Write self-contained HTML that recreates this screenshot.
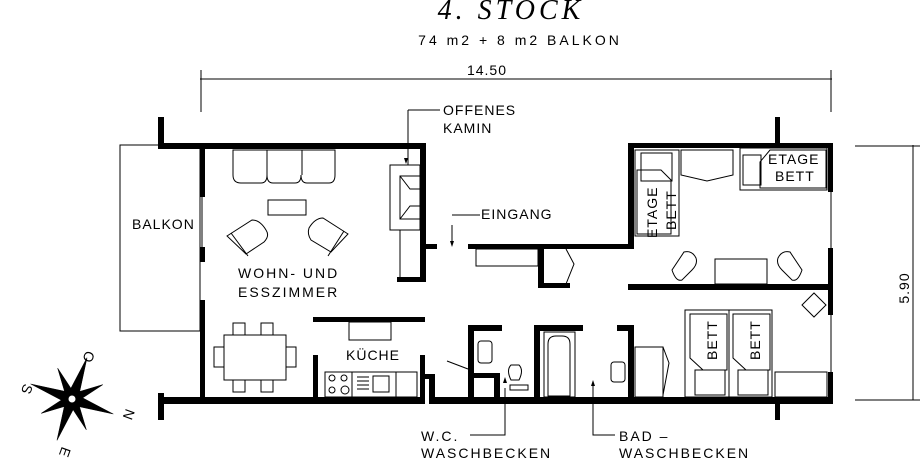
<!DOCTYPE html>
<html><head><meta charset="utf-8"><style>
html,body{margin:0;padding:0;background:#fff;}
svg{display:block;}
text{font-family:"Liberation Sans",sans-serif;font-size:14px;fill:#000;letter-spacing:1px;}
</style></head><body>
<svg width="924" height="465" viewBox="0 0 924 465" xmlns="http://www.w3.org/2000/svg">
<text x="511" y="19" text-anchor="middle" style="font-family:'Liberation Serif',serif;font-style:italic;font-size:28px;letter-spacing:4px">4.  STOCK</text>
<text x="520" y="45" text-anchor="middle" style="font-size:14px;letter-spacing:3px">74 m2 + 8 m2 BALKON</text>
<text x="487" y="75" text-anchor="middle">14.50</text>
<g stroke="#000" stroke-width="1" fill="none">
<line x1="200" y1="79" x2="832" y2="79"/>
<line x1="201" y1="70" x2="201" y2="112"/>
<line x1="831" y1="70" x2="831" y2="112"/>
<line x1="913" y1="145" x2="913" y2="400"/>
<line x1="855" y1="146" x2="920" y2="146"/>
<line x1="855" y1="400" x2="920" y2="400"/>
<rect x="120" y="145" width="80" height="186"/>
<line x1="202" y1="196" x2="202" y2="247"/>
<line x1="831" y1="192" x2="831" y2="248"/>
<line x1="831" y1="315" x2="831" y2="372"/>
</g>
<text transform="translate(909,288) rotate(-90)" text-anchor="middle">5.90</text>
<g fill="#000">
<rect x="158" y="117" width="6" height="32"/>
<rect x="158" y="143" width="267" height="6"/>
<rect x="420" y="143" width="6" height="139"/>
<rect x="397" y="277" width="29" height="5"/>
<rect x="425" y="244" width="12" height="5"/>
<rect x="200" y="147" width="5" height="50"/>
<rect x="200" y="247" width="5" height="15"/>
<rect x="200" y="300" width="5" height="104"/>
<rect x="158" y="393" width="6" height="27"/>
<rect x="158" y="397" width="267" height="7"/>
<rect x="313" y="317" width="112" height="5"/>
<rect x="313" y="355" width="5" height="49"/>
<rect x="420" y="355" width="5" height="49"/>
<rect x="420" y="374" width="15" height="5"/>
<rect x="429" y="374" width="6" height="30"/>
<rect x="429" y="397" width="404" height="7"/>
<rect x="628" y="143" width="205" height="5"/>
<rect x="775" y="117" width="5" height="28"/>
<rect x="628" y="143" width="6" height="106"/>
<rect x="468" y="244" width="166" height="5"/>
<rect x="538" y="249" width="6" height="39"/>
<rect x="538" y="283" width="32" height="5"/>
<rect x="828" y="143" width="5" height="49"/>
<rect x="828" y="248" width="5" height="67"/>
<rect x="828" y="372" width="5" height="30"/>
<rect x="628" y="284" width="205" height="6"/>
<rect x="468" y="325" width="34" height="6"/>
<rect x="534" y="325" width="49" height="6"/>
<rect x="617" y="325" width="17" height="6"/>
<rect x="468" y="325" width="6" height="78"/>
<rect x="534" y="325" width="6" height="78"/>
<rect x="628" y="325" width="6" height="78"/>
<rect x="474" y="373" width="26" height="5"/>
<rect x="494" y="373" width="6" height="30"/>
<rect x="775" y="400" width="5" height="20"/>
</g>
<g stroke="#000" stroke-width="1" fill="none">
<path d="M233 150 v25 q0 8 8 8 h20 q6 0 6 -8 q0 8 6 8 h22 q6 0 6 -8 q0 8 6 8 h22 q6 0 6 -8 v-25 z"/>
<line x1="267" y1="150" x2="267" y2="175"/><line x1="302" y1="150" x2="302" y2="175"/>
<rect x="268" y="200" width="38" height="15"/>
<path d="M227 236 l25 -16 q8 0 14 10 q4 6 -2 12 l-18 12 z"/><line x1="231" y1="233" x2="248" y2="256"/>
<path d="M348 234 l-25 -16 q-8 0 -14 10 q-2 6 2 12 l20 12 z"/><line x1="344" y1="231" x2="328" y2="256"/>
<rect x="390" y="165" width="30" height="65"/>
<rect x="400" y="176" width="20" height="43"/>
<path d="M400 176 l10 13 h10 M400 219 l10 -13 h10"/>
<line x1="400" y1="230" x2="400" y2="277"/>
<line x1="408" y1="110" x2="440" y2="110"/><line x1="408" y1="110" x2="408" y2="165"/>
<path d="M452 225 v20 M452 215 h28" />
<rect x="224" y="335" width="62" height="45"/>
<path d="M233 335 v-12 h12 v12 M261 335 v-12 h12 v12 M233 380 v12 h12 v-12 M261 380 v12 h12 v-12 M224 347 h-10 v20 h10 M286 347 h10 v20 h-10"/>
<rect x="349" y="322" width="42" height="18"/>
<rect x="325" y="372" width="92" height="25"/>
<line x1="352" y1="372" x2="352" y2="397"/><line x1="396" y1="372" x2="396" y2="397"/>
<circle cx="332" cy="378" r="3"/><circle cx="344" cy="378" r="3"/><circle cx="332" cy="390" r="3"/><circle cx="345" cy="390" r="4"/>
<rect x="373" y="376" width="16" height="16"/><path d="M357 377 h12 M357 381 h12 M357 385 h12 M357 389 h12"/>
<rect x="476" y="249" width="62" height="17"/>
<path d="M566 249 l8 15 -8 20"/>
<line x1="425" y1="378" x2="430" y2="378"/>
<path d="M447 361 l21 8"/>
<rect x="635" y="150" width="44" height="86"/>
<rect x="641" y="153" width="31" height="28"/>
<path d="M637 170 h24 l10 10 v54 h-34 z"/>
<path d="M681 150 h52 v25 l-26 6 -26 -6 z"/>
<rect x="740" y="148" width="87" height="42"/>
<rect x="743" y="155" width="18" height="30"/>
<path d="M760 162 l10 -12 h56 v38 h-66 z"/>
<path d="M672 270 l12 -18 q8 -2 12 6 q2 6 -4 12 l-10 10 q-6 2 -10 -10 z"/>
<path d="M802 270 l-12 -18 q-8 -2 -12 6 q-2 6 4 12 l10 10 q6 2 10 -10 z"/>
<rect x="715" y="259" width="52" height="25"/>
<path d="M802 305 l12 -12 12 12 -12 12 z"/>
<rect x="685" y="310" width="87" height="87"/>
<path d="M690 314 h37 v56 h-24 l-13 -12 z"/><rect x="695" y="370" width="30" height="25"/>
<path d="M733 314 h37 v56 h-24 l-13 -12 z"/><rect x="738" y="370" width="30" height="25"/>
<line x1="729" y1="310" x2="729" y2="397"/>
<rect x="775" y="372" width="52" height="25"/>
<rect x="635" y="347" width="28" height="50"/><path d="M663 347 l6 16 -6 32"/>
<rect x="544" y="332" width="31" height="65"/>
<path d="M548 396 v-52 q0 -8 8 -8 h6 q8 0 8 8 v52 z"/>
<rect x="478" y="341" width="14" height="22" rx="3"/>
<rect x="611" y="362" width="14" height="20" rx="3"/>
<path d="M511 380 q-5 -10 0 -15 h8 q5 5 0 15 z"/><rect x="510" y="385" width="18" height="5"/>
<path d="M505 388 v47 h-35"/><path d="M593 383 v52 h22"/>
</g>
<g fill="#000"><path d="M406 164 l-2 -6 h4 z"/><path d="M452 247 l-2 -6 h4 z"/><path d="M505 377 l-2 6 h4 z"/><path d="M593 380 l-2 6 h4 z"/></g>
<text x="443" y="115">OFFENES</text><text x="443" y="133">KAMIN</text>
<text x="481" y="219">EINGANG</text>
<text x="132" y="229">BALKON</text>
<text x="238" y="278" style="letter-spacing:2px">WOHN-  UND</text>
<text x="238" y="297" style="letter-spacing:2px">ESSZIMMER</text>
<text x="346" y="360">KÜCHE</text>
<text x="768" y="164">ETAGE</text><text x="775" y="181">BETT</text>
<text transform="translate(657,238) rotate(-90)">ETAGE</text>
<text transform="translate(676,230) rotate(-90)">BETT</text>
<text transform="translate(717,360) rotate(-90)">BETT</text>
<text transform="translate(760,360) rotate(-90)">BETT</text>
<text x="421" y="441" style="letter-spacing:2px">W.C.</text>
<text x="421" y="458" style="letter-spacing:2px">WASCHBECKEN</text>
<text x="619" y="441" style="letter-spacing:2px">BAD  –</text>
<text x="619" y="458" style="letter-spacing:2px">WASCHBECKEN</text>
<g transform="translate(72,399)">
<g fill="#000" stroke="#000" stroke-width="0.5">
<polygon points="0,-44 6,0 -6,0" transform="rotate(20)"/>
<polygon points="0,-44 6,0 -6,0" transform="rotate(110)"/>
<polygon points="0,-44 6,0 -6,0" transform="rotate(200)"/>
<polygon points="0,-44 6,0 -6,0" transform="rotate(290)"/>
<polygon points="0,-34 5,0 -5,0" transform="rotate(65)"/>
<polygon points="0,-34 5,0 -5,0" transform="rotate(155)"/>
<polygon points="0,-34 5,0 -5,0" transform="rotate(245)"/>
<polygon points="0,-34 5,0 -5,0" transform="rotate(335)"/>
</g>
<circle r="4" fill="#fff" stroke="#000"/>
</g>
<g style="font-family:'Liberation Serif',serif;font-size:16px;letter-spacing:0">
<text transform="translate(86,350) rotate(110)">O</text>
<text transform="translate(24,383) rotate(110)">S</text>
<text transform="translate(126,408) rotate(110)">N</text>
<text transform="translate(62,446) rotate(110)">E</text>
</g>
</svg>
</body></html>
